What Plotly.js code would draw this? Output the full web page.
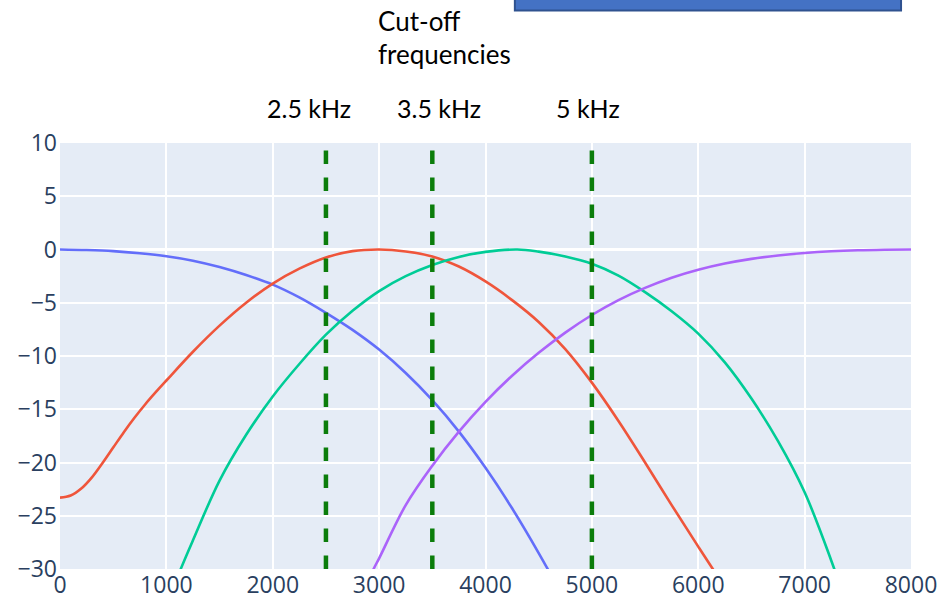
<!DOCTYPE html>
<html>
<head>
<meta charset="utf-8">
<script src="https://cdn.plot.ly/plotly-3.0.1.min.js"></script>
<style>html,body{margin:0;padding:0;background:#fff;}#chart{width:947px;height:600px;}</style>
</head>
<body>
<div id="chart"></div>
<script>
// Low-pass (blue)
const freqLow = [0, 250, 500, 750, 1000, 1250, 1500, 1750, 2000, 2250, 2500, 2750, 3000, 3250, 3500, 3750, 4000, 4250, 4500, 4750];
const dbLow   = [0, -0.05, -0.15, -0.35, -0.63, -1.05, -1.65, -2.4, -3.3, -4.5, -5.95, -7.55, -9.4, -11.6, -14.15, -17.1, -20.5, -24.3, -28.5, -33.0];
// Band 1 (red)
const freqBand1 = [0, 100, 200, 300, 400, 500, 600, 700, 800, 900, 1000, 1250, 1500, 1750, 2000, 2250, 2500, 2750, 3000, 3250, 3500, 3750, 4000, 4250, 4500, 4750, 5000, 5250, 5500, 5750, 6000, 6250, 6500];
const dbBand1   = [-23.3, -23.1, -22.45, -21.4, -20.05, -18.6, -17.15, -15.8, -14.55, -13.4, -12.3, -9.6, -7.15, -5.0, -3.2, -1.8, -0.75, -0.15, 0, -0.18, -0.65, -1.6, -3.0, -4.75, -6.8, -9.35, -12.5, -16.1, -20.0, -24.0, -27.9, -31.7, -35.3];
// Band 2 (green)
const freqBand2 = [900, 1135, 1250, 1500, 1750, 2000, 2250, 2500, 2750, 3000, 3250, 3500, 3750, 4000, 4300, 4500, 4750, 5000, 5250, 5500, 5750, 6000, 6250, 6500, 6750, 7000, 7250, 7450];
const dbBand2   = [-36.0, -30.0, -27.3, -21.7, -17.4, -13.8, -10.75, -8.0, -5.75, -3.9, -2.5, -1.45, -0.7, -0.22, 0, -0.2, -0.65, -1.33, -2.45, -4.0, -5.8, -7.9, -10.6, -14.0, -18.0, -22.8, -29.2, -35.0];
// High-pass (purple)
const freqHigh = [2750, 2948, 3000, 3250, 3500, 3750, 4000, 4250, 4500, 4750, 5000, 5250, 5500, 5750, 6000, 6250, 6500, 6750, 7000, 7250, 7500, 7750, 8000];
const dbHigh   = [-34.5, -30.0, -29.0, -24.0, -20.3, -17.1, -14.3, -11.85, -9.7, -7.8, -6.15, -4.75, -3.6, -2.65, -1.9, -1.32, -0.88, -0.56, -0.33, -0.17, -0.07, -0.02, 0];
// Cut-off frequencies
const cutoffs = [2500, 3500, 5000];
const cutoffLabels = ["2.5 kHz", "3.5 kHz", "5 kHz"];
const cutoffLabelX = [2345, 3560, 4965];
const yRange = [-30, 10];

const curveStyle = (c) => ({color: c, width: 2.6, shape: 'spline', smoothing: 1});
const traces = [
  {x: freqLow, y: dbLow, mode: 'lines', line: curveStyle('#636efa'), showlegend: false},
  {x: freqBand1, y: dbBand1, mode: 'lines', line: curveStyle('#EF553B'), showlegend: false},
  {x: freqBand2, y: dbBand2, mode: 'lines', line: curveStyle('#00cc96'), showlegend: false},
  {x: freqHigh, y: dbHigh, mode: 'lines', line: curveStyle('#ab63fa'), showlegend: false}
];
cutoffs.forEach(f => traces.push({
  x: [f, f], y: [yRange[0], yRange[1]], mode: 'lines',
  line: {color: '#0b7d0b', width: 4.5, dash: 'dash'}, showlegend: false
}));

const labelFont = {family: 'Lato, "Open Sans", sans-serif', size: 25, color: '#000'};
const titleFont = {family: 'Lato, "Open Sans", sans-serif', size: 26, color: '#000'};
const annotations = cutoffLabels.map((t, i) => ({
  text: t, x: cutoffLabelX[i], xref: 'x', y: 1.081, yref: 'paper',
  showarrow: false, xanchor: 'center', yanchor: 'middle', font: labelFont
}));
annotations.push({text: 'Cut-off', x: 2973, xref: 'x', y: 1.286, yref: 'paper',
  showarrow: false, xanchor: 'left', yanchor: 'middle', font: titleFont});
annotations.push({text: 'frequencies', x: 2973, xref: 'x', y: 1.209, yref: 'paper',
  showarrow: false, xanchor: 'left', yanchor: 'middle', font: titleFont});

const tickFont = {family: '"Open Sans", verdana, arial, sans-serif', size: 23, color: '#2a3f5f'};
const layout = {
  width: 947, height: 600,
  margin: {l: 60, r: 36, t: 143, b: 31, pad: 0},
  paper_bgcolor: '#ffffff', plot_bgcolor: '#E5ECF6',
  showlegend: false,
  xaxis: {range: [0, 8000], dtick: 1000, tick0: 0, tickfont: tickFont, gridcolor: '#ffffff', gridwidth: 2,
          zeroline: false, showline: false, ticks: '', automargin: false},
  yaxis: {range: yRange, dtick: 5, tick0: 0, tickfont: tickFont, gridcolor: '#ffffff', gridwidth: 2,
          zeroline: true, zerolinecolor: '#ffffff', zerolinewidth: 2.5, showline: false, ticks: '',
          ticklabelstandoff: 2, automargin: false},
  shapes: [{type: 'rect', xref: 'paper', yref: 'paper', x0: 0.5345, x1: 0.9883, y0: 1.311, y1: 1.45,
            fillcolor: '#4472C4', line: {color: '#2F528F', width: 2}}],
  annotations: annotations
};
Plotly.newPlot('chart', traces, layout, {displayModeBar: false, staticPlot: true});
</script>
</body>
</html>
